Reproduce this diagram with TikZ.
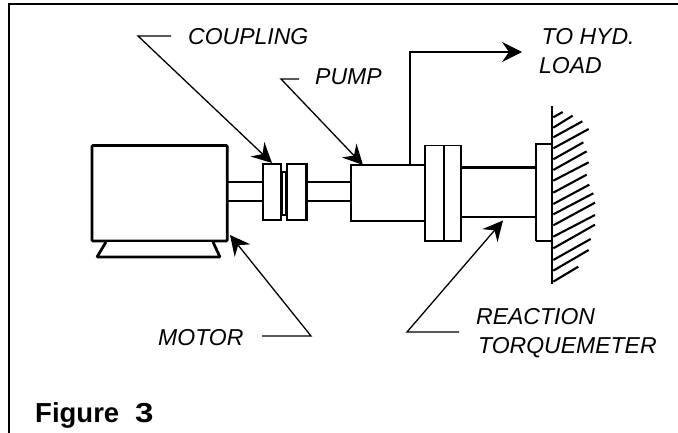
\documentclass[tikz,border=0pt]{standalone}
\usepackage{fontspec}
\setmainfont{Liberation Sans}
\usetikzlibrary{arrows.meta}
\tikzset{
  x=1pt,y=-1pt,
  frameline/.style={line width=1.8pt,black,line cap=rect},
  thinpart/.style={draw=black,fill=white,line width=1.5pt},
  thickpart/.style={draw=black,fill=white,line width=2.2pt},
  shaft/.style={line width=1.7pt,black},
  hatch/.style={line width=2.1pt,black},
  leader/.style={line width=1.3pt,black,-{Stealth[length=20pt,width=20pt,inset=7pt]}},
  labeltext/.style={font=\fontsize{23}{26}\selectfont\itshape,anchor=base west,inner sep=0pt},
}
\begin{document}
\begin{tikzpicture}
\useasboundingbox (0,0) rectangle (678,433);
% frame
\draw[frameline] (8.8,433) -- (8.8,4.2) -- (678,4.2);
% shafts
\draw[shaft] (228,182.3) -- (262,182.3) (228,201.3) -- (262,201.3);
\draw[shaft] (306,182.3) -- (351,182.3) (306,201.3) -- (351,201.3);
% motor
\draw[line width=2.7pt,fill=white,rounded corners=1pt] (92,145.5) -- (227.3,145.5) -- (227.3,241) -- (92,241) -- cycle;
\draw[line width=2.7pt,fill=white,line join=bevel] (106,242) -- (97,257) -- (220,257) -- (213,242);
% coupling
\draw[thinpart] (282,172) rectangle (286,215);
\draw[thickpart] (262.7,164) rectangle (281.3,220.3);
\draw[thickpart] (287,164) rectangle (306.5,220.3);
% pump
\draw[thinpart] (351.2,165) rectangle (425,221);
% flange
\draw[line width=1.8pt,fill=white] (425,145.5) rectangle (461,241);
\draw[line width=2.2pt] (424.8,145) -- (424.8,241.7);
\draw[line width=1.4pt] (444,145.5) -- (444,241);
% torquemeter
\draw[line width=2.4pt] (462,167.7) -- (536,167.7);
\draw[line width=1.6pt] (462,217.3) -- (536,217.3);
\draw[line width=2.4pt] (536,241) -- (536,144.2) -- (552,144.2);
\draw[line width=1.5pt] (536,241.2) -- (552,241.2);
% wall
\draw[line width=2.2pt] (552.3,106.5) -- (552.3,283.5);
\begin{scope}[shift={(340,80)},x=0.33333pt,y=-0.33333pt]
\foreach \a/\b/\c in {112/668/96,143/698/107,172/727/124,205/746/147,238/730/187,270/740/214,302/746/247,338/740/284,372/748/314,403/760/340,436/765/368,470/765/405,505/765/434,540/752/477,572/746/510,605/715/560}{
  \draw[hatch] (640,\a) -- (\b,\c);
}
\end{scope}
% labels
\node[labeltext] (coupling) at (188,45) {COUPLING};
\node[labeltext] (pump) at (315,85) {PUMP};
\node[labeltext] (hyd) at (541.5,45) {TO HYD.};
\node[labeltext] (load) at (539,74) {LOAD};
\node[labeltext] (motor) at (158,345) {MOTOR};
\node[labeltext] (reaction) at (476,324) {REACTION};
\node[labeltext] (torque) at (478,353) {TORQUEMETER};
\node[anchor=base west,inner sep=0pt,font=\fontsize{27.5}{30}\selectfont\bfseries] (figure) at (35,422.5) {Figure\hspace{16pt}{\addfontfeature{FakeStretch=1.2}3}};
% leaders
\coordinate (couplingstart) at (171,36);
\coordinate (couplingbend) at (138,36);
\coordinate (couplingtip) at (272,163);
\coordinate (pumpstart) at (299,79);
\coordinate (pumpbend) at (281,79);
\coordinate (pumptip) at (363,165);
\coordinate (hydstart) at (410,164);
\coordinate (hydbend) at (410,52);
\coordinate (hydtip) at (522,52);
\coordinate (motorstart) at (262,336);
\coordinate (motorbend) at (311,336);
\coordinate (motortip) at (230,235);
\coordinate (reactionstart) at (459,332);
\coordinate (reactionbend) at (407,332);
\coordinate (reactiontip) at (503,220.5);
\draw[leader] (couplingstart) -- (couplingbend) -- (couplingtip);
\draw[leader] (pumpstart) -- (pumpbend) -- (pumptip);
\draw[leader] (hydstart) -- (hydbend) -- (hydtip);
\draw[leader] (motorstart) -- (motorbend) -- (motortip);
\draw[leader] (reactionstart) -- (reactionbend) -- (reactiontip);
\end{tikzpicture}
\end{document}
